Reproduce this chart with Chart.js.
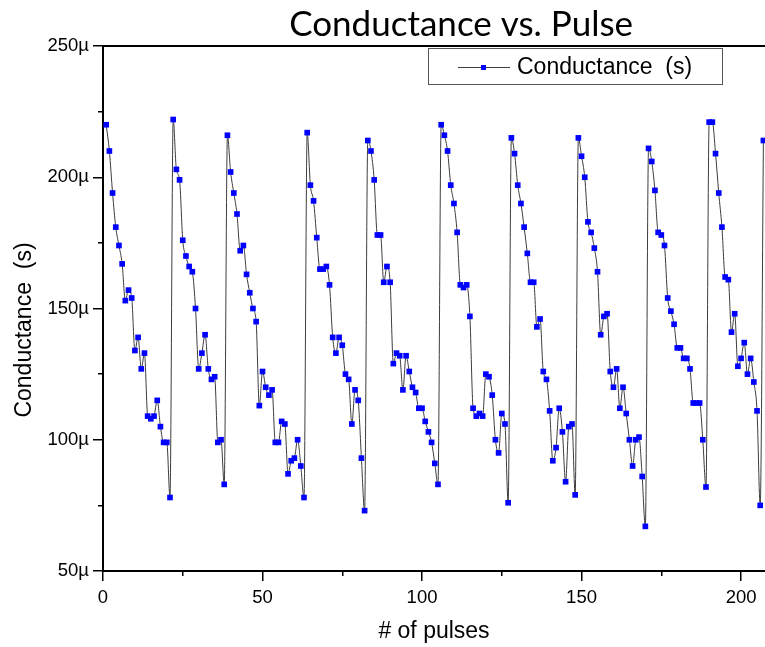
<!DOCTYPE html>
<html>
<head>
<meta charset="utf-8">
<title>Conductance vs. Pulse</title>
<script src="https://cdn.jsdelivr.net/npm/chart.js@4.4.1/dist/chart.umd.min.js"></script>
<style>
  html, body { margin: 0; padding: 0; background: #fff; }
  #wrap { position: relative; width: 765px; height: 647px; }
</style>
</head>
<body>
<div id="wrap"><canvas id="cv"></canvas></div>
<script>
(function () {
  "use strict";

  // ===== data — pulse numbers start at 1, conductance in µS =====
  var FIRST_PULSE = 1;
  var conductance = [
    220, 210, 194, 181, 174, 167, 153, 157, 154, 134, 139, 127, 133, 109, 108, 109, 115, 105, 99, 99, 78,
    222, 203, 199, 176, 170, 166, 164, 150, 127, 133, 140, 127, 123, 124, 99, 100, 83,
    216, 202, 194, 186, 172, 174, 163, 156, 150, 145, 113, 126, 120, 117, 119, 99, 99, 107, 106, 87, 92, 93, 100, 90, 78,
    217, 197, 191, 177, 165, 165, 166, 159, 139, 133, 139, 136, 125, 123, 106, 119, 115, 93, 73,
    214, 210, 199, 178, 178, 160, 166, 160, 129, 133, 132, 119, 132, 126, 120, 118, 112, 112, 107, 103, 99, 91, 83,
    220, 216, 210, 197, 190, 179, 159, 158, 159, 147, 112, 109, 110, 109, 125, 124, 117, 100, 95, 110, 106, 76,
    215, 209, 197, 190, 181, 171, 160, 160, 143, 146, 126, 123, 111, 92, 97, 112, 103, 84, 105, 106, 79,
    215, 208, 200, 183, 179, 173, 164, 140, 147, 148, 126, 120, 127, 112, 120, 110, 100, 90, 100, 101, 86, 67,
    211, 206, 195, 179, 178, 174, 154, 149, 144, 135, 135, 131, 131, 127, 114, 114, 114, 100, 82,
    221, 221, 209, 194, 181, 162, 161, 141, 148, 128, 131, 137, 125, 131, 122, 111, 75,
    214
  ];
  var pulses = conductance.map(function (v, i) { return FIRST_PULSE + i; });

  var xMajorTicks = [0, 50, 100, 150, 200];
  var xMinorTicks = [25, 75, 125, 175];
  var yMajorTicks = [50, 100, 150, 200, 250];
  var yMinorTicks = [75, 125, 175, 225];
  var X_MIN = 0, X_MAX = 207.5, Y_MIN = 50, Y_MAX = 250;

  var TITLE = "Conductance vs. Pulse";
  var X_TITLE = "# of pulses";
  var Y_TITLE = "Conductance  (s)";
  var SERIES = "Conductance  (s)";

  var SANS = "'Liberation Sans', Arial, sans-serif";
  var LINE_COLOR = "#3c3c3c", MARK_COLOR = "#0000ff";

  function setTicks(values) {
    return function (scale) { scale.ticks = values.map(function (v) { return { value: v }; }); };
  }
  function fixWidth(w) { return function (scale) { scale.width = w; }; }
  function fixHeight(h) { return function (scale) { scale.height = h; }; }

  // title, rotated y title and the boxed legend (Origin style)
  var decor = {
    id: "decor",
    afterDraw: function (chart) {
      var ctx = chart.ctx, a = chart.chartArea;
      var ds = chart.data.datasets[0];
      ctx.save();
      ctx.fillStyle = "#000";
      ctx.font = "35px Lato, 'Open Sans', sans-serif";
      ctx.textAlign = "center";
      ctx.textBaseline = "alphabetic";
      ctx.fillText(TITLE, a.left + (a.right - a.left) * 0.541, 36);

      ctx.save();
      ctx.translate(25, a.top + (a.bottom - a.top) * 0.541);
      ctx.rotate(-Math.PI / 2);
      ctx.font = "23px " + SANS;
      ctx.textBaseline = "middle";
      ctx.fillText(Y_TITLE, 0, 0);
      ctx.restore();

      // legend box
      var bx = a.right - 337, by = a.top + 2, bw = 294, bh = 36;
      ctx.fillStyle = "#fff";
      ctx.fillRect(bx, by, bw, bh);
      ctx.strokeStyle = "#555";
      ctx.lineWidth = 1;
      ctx.strokeRect(bx + 0.5, by + 0.5, bw, bh);
      var ly = by + 19;
      ctx.strokeStyle = ds.borderColor;
      ctx.beginPath(); ctx.moveTo(bx + 30, ly + 0.5); ctx.lineTo(bx + 82, ly + 0.5); ctx.stroke();
      ctx.fillStyle = ds.pointBackgroundColor;
      ctx.fillRect(bx + 53, ly - 2, 5, 5);
      ctx.fillStyle = "#000";
      ctx.font = "23px " + SANS;
      ctx.textAlign = "left";
      ctx.textBaseline = "middle";
      ctx.fillText(ds.label, bx + 89, ly + 1);
      ctx.restore();
    }
  };

  var el = document.getElementById("cv");
  new Chart(el, {
    type: "line",
    data: {
      datasets: [{
        label: SERIES,
        data: conductance.map(function (v, i) { return { x: pulses[i], y: v }; }),
        borderColor: LINE_COLOR,
        borderWidth: 1,
        cubicInterpolationMode: "monotone",
        pointStyle: "rect",
        pointRadius: 4,
        pointBorderWidth: 0,
        pointBackgroundColor: MARK_COLOR,
        pointBorderColor: MARK_COLOR,
        xAxisID: "x",
        yAxisID: "y"
      }]
    },
    options: {
      responsive: true,
      maintainAspectRatio: false,
      animation: false,
      layout: { autoPadding: false, padding: { top: 46, right: 0, bottom: 0, left: 0 } },
      plugins: { legend: { display: false }, title: { display: false }, tooltip: { enabled: false } },
      scales: {
        x: {
          type: "linear", position: "bottom", min: X_MIN, max: X_MAX, weight: 0,
          afterBuildTicks: setTicks(xMajorTicks),
          afterFit: fixHeight(76),
          border: { display: true, color: "#000", width: 2 },
          grid: { drawOnChartArea: false, drawTicks: true, tickLength: 10, color: "#000", lineWidth: 1.5 },
          ticks: { color: "#000", padding: 6, maxRotation: 0, font: { family: SANS, size: 18.5 } },
          title: { display: true, text: X_TITLE, color: "#000", padding: { top: 0, bottom: 2 }, font: { family: SANS, size: 23 } }
        },
        xMinor: {
          type: "linear", position: "bottom", min: X_MIN, max: X_MAX, weight: -1,
          afterBuildTicks: setTicks(xMinorTicks),
          afterFit: fixHeight(0),
          border: { display: false },
          grid: { drawOnChartArea: false, drawTicks: true, tickLength: 5, color: "#000", lineWidth: 1.5 },
          ticks: { display: false }
        },
        xTop: {
          type: "linear", position: "top", min: X_MIN, max: X_MAX,
          afterFit: fixHeight(0),
          border: { display: true, color: "#000", width: 2 },
          grid: { display: false, drawTicks: false },
          ticks: { display: false }
        },
        y: {
          type: "linear", position: "left", min: Y_MIN, max: Y_MAX, weight: 0,
          afterBuildTicks: setTicks(yMajorTicks),
          afterFit: fixWidth(103),
          border: { display: true, color: "#000", width: 2 },
          grid: { drawOnChartArea: false, drawTicks: true, tickLength: 10, color: "#000", lineWidth: 1.5 },
          ticks: {
            color: "#000", padding: 4, font: { family: SANS, size: 18.5 },
            callback: function (v) { return v + "\u00b5"; }
          }
        },
        yMinor: {
          type: "linear", position: "left", min: Y_MIN, max: Y_MAX, weight: -1,
          afterBuildTicks: setTicks(yMinorTicks),
          afterFit: fixWidth(0),
          border: { display: false },
          grid: { drawOnChartArea: false, drawTicks: true, tickLength: 5, color: "#000", lineWidth: 1.5 },
          ticks: { display: false }
        }
      }
    },
    plugins: [decor]
  });
})();
</script>
</body>
</html>
